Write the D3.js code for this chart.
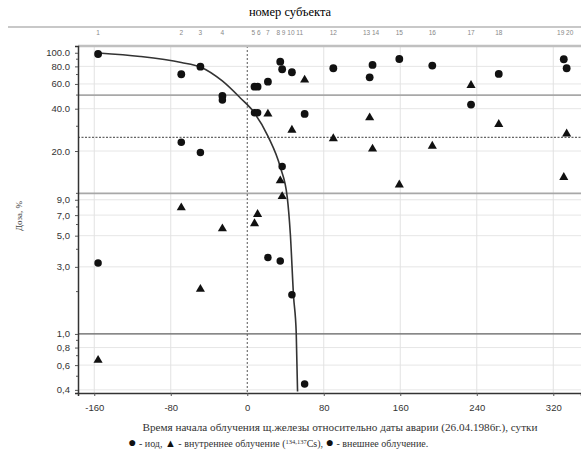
<!DOCTYPE html>
<html lang="ru">
<head>
  <meta charset="UTF-8">
  <title>Доза в зависимости от времени начала облучения</title>
  <script src="https://d3js.org/d3.v7.min.js"></script>
  <style>
    body { margin: 0; background: #fff; }
    text { font-family: "Liberation Sans", Arial, sans-serif; }
    .serif { font-family: "Liberation Serif", "Times New Roman", serif; }
  </style>
</head>
<body>
<script>
// subject numbers and day of exposure start (relative to 26.04.1986)
const subjects = [1, 2, 3, 4, 5, 6, 7, 8, 9, 10, 11, 12, 13, 14, 15, 16, 17, 18, 19, 20];
const subjectDays = [-156, -69, -49, -26, 7.6, 10.8, 21.6, 34.5, 36.5, 46.7, 60, 90, 128, 131, 159, 193.5, 234, 263, 331, 334];

// dose, % (null = not shown)
const iodine   = [98, 70.3, 79.6, 49.3, 57.4, 57.4, 62.3, 86.4, 76.3, 72.7, 36.7, 77.6, 66.9, 81.9, 90.3, 81.0, 42.8, 70.7, 89.9, 77.6];
const internal = [0.65, 7.9, 2.08, 5.6, 6.1, 7.1, 36.7, 12.3, 9.5, 28.2, 64.1, 24.5, 34.5, 20.7, 11.5, 21.7, 58.7, 31.0, 13.0, 26.5];
const external = [3.2, 23.1, 19.5, 46.2, 37.5, 37.5, 3.5, 3.3, 15.5, 1.9, 0.44, null, null, null, null, null, null, null, null, null];

// fitted curve
const curveDays = [-155.8, -111.9, -69, -49.1, -26.1, -7.3, 7.3, 22, 34.5, 41.8, 45, 48.4, 51.2, 52.6];
const curveDose = [99.7, 94.1, 85.3, 79.2, 63.0, 47.7, 37.5, 25.2, 15.4, 9.4, 5.2, 1.86, 1.02, 0.39];

// labels on the upper axis (groups of subjects)
const topGroups = [[1], [2], [3], [4], [5, 6], [7], [8, 9, 10, 11], [12], [13, 14], [15], [16], [17], [18], [19, 20]];

const xTicks = [-160, -80, 0, 80, 160, 240, 320];
const yTicks = [100, 80, 60, 40, 20, 9, 7, 5, 3, 1, 0.8, 0.6, 0.4];
const yTickLabels = ["100.0", "80.0", "60.0", "40.0", "20.0", "9,0", "7,0", "5,0", "3,0", "1,0", "0,8", "0,6", "0,4"];
const yMinor = [90, 70, 50, 30, 10, 8, 6, 4, 2, 0.9, 0.7, 0.5];
const refLinesSolid = [50, 10];
const refLinesDashed = [25, 1];

const width = 581, height = 453;
const margin = { top: 46, right: 0, bottom: 60, left: 78 };

const svg = d3.select("body").append("svg")
  .attr("width", width)
  .attr("height", height);

const x = d3.scaleLinear()
  .domain([-177, 349])
  .range([margin.left, width - margin.right]);

const y = d3.scaleLog()
  .domain([0.38, 111.7])
  .range([height - margin.bottom, margin.top]);

// title and upper axis
svg.append("text")
  .attr("class", "serif")
  .attr("x", 290).attr("y", 16)
  .attr("text-anchor", "middle")
  .attr("font-size", 12.5)
  .text("номер субъекта");

svg.append("line")
  .attr("x1", 8).attr("x2", width)
  .attr("y1", 27).attr("y2", 27)
  .attr("stroke", "#c8c8c8").attr("stroke-width", 2);

svg.selectAll(".top-label")
  .data(topGroups)
  .enter().append("text")
  .attr("class", "top-label")
  .attr("x", g => x(d3.mean(g, s => subjectDays[s - 1])))
  .attr("y", 35)
  .attr("text-anchor", "middle")
  .attr("font-size", 6.5)
  .attr("fill", "#888")
  .text(g => g.join(" "));

// light grid
const grid = svg.append("g");
grid.selectAll(".hgrid")
  .data(yTicks.slice(1))
  .enter().append("line")
  .attr("x1", x.range()[0]).attr("x2", x.range()[1])
  .attr("y1", d => y(d)).attr("y2", d => y(d))
  .attr("stroke", "#e6e6e6");

grid.selectAll(".vgrid")
  .data(xTicks.filter(d => d !== 0))
  .enter().append("line")
  .attr("x1", d => x(d)).attr("x2", d => x(d))
  .attr("y1", y.range()[1]).attr("y2", y.range()[0])
  .attr("stroke", "#e2e2e2");

grid.selectAll(".ref-solid")
  .data(refLinesSolid)
  .enter().append("line")
  .attr("x1", x.range()[0]).attr("x2", x.range()[1])
  .attr("y1", d => y(d)).attr("y2", d => y(d))
  .attr("stroke", "#a8a8a8").attr("stroke-width", 1.6);

grid.selectAll(".ref-dashed")
  .data(refLinesDashed)
  .enter().append("line")
  .attr("x1", x.range()[0]).attr("x2", x.range()[1])
  .attr("y1", d => y(d)).attr("y2", d => y(d))
  .attr("stroke", "#666").attr("stroke-width", 1.2)
  .attr("stroke-dasharray", d => d === 1 ? null : "2,1.5");

grid.append("line")
  .attr("x1", x(0)).attr("x2", x(0))
  .attr("y1", y.range()[1]).attr("y2", y.range()[0])
  .attr("stroke", "#555").attr("stroke-dasharray", "2,2");

// plot frame top
svg.append("line")
  .attr("x1", x.range()[0]).attr("x2", x.range()[1])
  .attr("y1", margin.top).attr("y2", margin.top)
  .attr("stroke", "#c0c0c0").attr("stroke-width", 2.5);

// axes
const yAxis = svg.append("g")
  .attr("transform", `translate(${margin.left},0)`)
  .call(d3.axisLeft(y).tickValues(yTicks).tickSize(3).tickFormat((d, i) => yTickLabels[i]));
yAxis.select(".domain").attr("stroke", "#333").attr("stroke-width", 1.5);
yAxis.selectAll(".tick line").attr("stroke", "#555");
yAxis.selectAll("text").attr("font-size", 9.5).attr("fill", "#333").attr("x", -8);

svg.append("g")
  .attr("transform", `translate(${margin.left},0)`)
  .selectAll("line")
  .data(yMinor)
  .enter().append("line")
  .attr("x1", -2).attr("x2", 0)
  .attr("y1", d => y(d)).attr("y2", d => y(d))
  .attr("stroke", "#555");

const xAxis = svg.append("g")
  .attr("transform", `translate(0,${height - margin.bottom})`)
  .call(d3.axisBottom(x).tickValues(xTicks).tickSize(3).tickFormat(d => String(d)));
xAxis.select(".domain").attr("stroke", "#333").attr("stroke-width", 1.5);
xAxis.selectAll(".tick line").attr("stroke", "#555");
xAxis.selectAll("text").attr("font-size", 9.5).attr("fill", "#333").attr("dy", "1.3em");

// fitted curve
const line = d3.line()
  .x(d => x(d[0]))
  .y(d => y(d[1]))
  .curve(d3.curveMonotoneX);

svg.append("path")
  .datum(curveDays.map((d, i) => [d, curveDose[i]]))
  .attr("d", line)
  .attr("fill", "none")
  .attr("stroke", "#333")
  .attr("stroke-width", 1.6);

// points
const pts = svg.append("g");
function drawSeries(values, symbolType, size) {
  pts.selectAll(null)
    .data(values.map((v, i) => [subjectDays[i], v]).filter(d => d[1] != null))
    .enter().append("path")
    .attr("transform", d => `translate(${x(d[0])},${y(d[1])})`)
    .attr("d", d3.symbol().type(symbolType).size(size))
    .attr("fill", "#111");
}
drawSeries(iodine, d3.symbolCircle, 48);
drawSeries(external, d3.symbolCircle, 44);
drawSeries(internal, d3.symbolTriangle, 36);

// y label
svg.append("text")
  .attr("class", "serif")
  .attr("transform", "translate(22,216) rotate(-90)")
  .attr("text-anchor", "middle")
  .attr("font-size", 9)
  .attr("fill", "#444")
  .text("Доза, %");

// x label
svg.append("text")
  .attr("class", "serif")
  .attr("x", 340).attr("y", 431)
  .attr("text-anchor", "middle")
  .attr("font-size", 11.2)
  .attr("fill", "#333")
  .text("Время начала облучения щ.железы относительно даты аварии (26.04.1986г.), сутки");

// legend
const legend = svg.append("text")
  .attr("class", "serif")
  .attr("x", 128).attr("y", 447)
  .attr("font-size", 10)
  .attr("fill", "#333");
legend.append("tspan").attr("font-size", 14).attr("fill", "#111").text("●");
legend.append("tspan").text(" - иод,  ");
legend.append("tspan").attr("font-size", 11).attr("fill", "#111").text("▲");
legend.append("tspan").text(" - внутреннее облучение (");
legend.append("tspan").attr("font-size", 6.5).attr("dy", -3.5).text("134,137");
legend.append("tspan").attr("dy", 3.5).text("Cs),  ");
legend.append("tspan").attr("font-size", 14).attr("fill", "#111").text("●");
legend.append("tspan").text(" - внешнее облучение.");
</script>
</body>
</html>
